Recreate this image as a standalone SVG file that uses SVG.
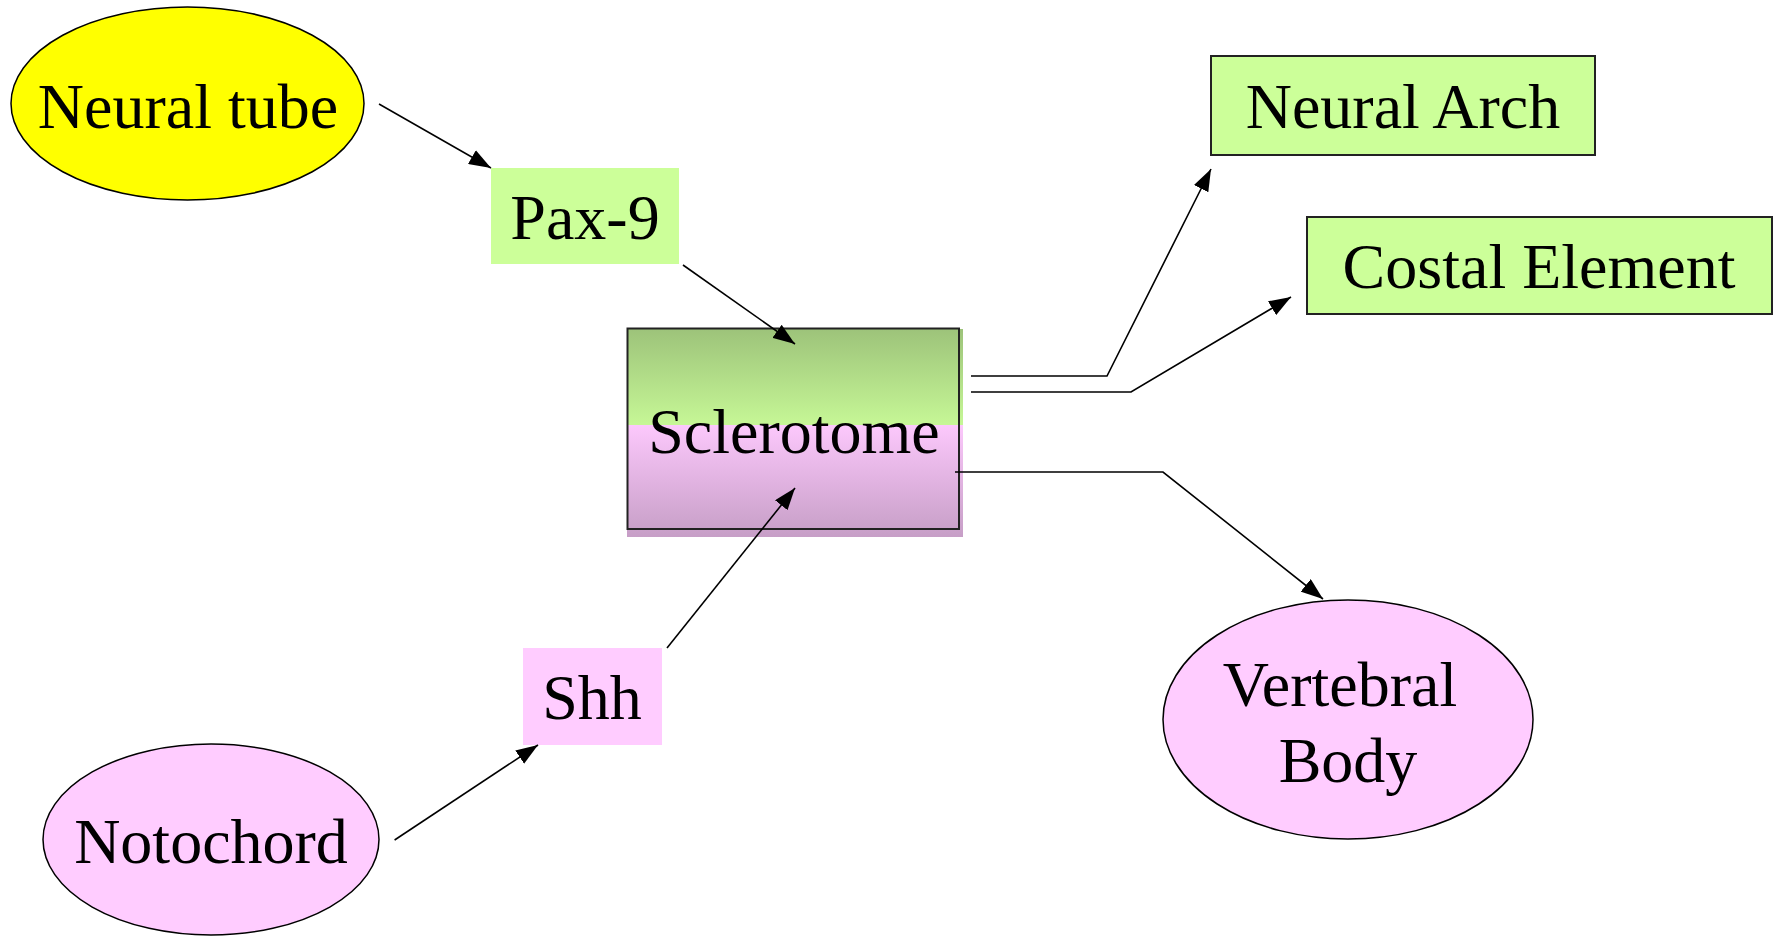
<svg xmlns="http://www.w3.org/2000/svg" width="1776" height="937" viewBox="0 0 1776 937">
<style>
text{font-family:"Liberation Serif","Times New Roman",serif;font-size:64px;fill:#000;text-anchor:middle}
.conn{fill:none;stroke:#000;stroke-width:1.6}
.edge{stroke:#000;stroke-width:1.5}
</style>
<defs>
<marker id="ah" viewBox="0 0 22 16" refX="22" refY="8" markerWidth="22" markerHeight="16" markerUnits="userSpaceOnUse" orient="auto">
<path d="M0,0 L22,8 L0,16 z" fill="#000"/>
</marker>
<linearGradient id="scl" x1="0" y1="0" x2="0" y2="1">
<stop offset="0" stop-color="#9dc37a"/>
<stop offset="0.46" stop-color="#c6f796"/>
<stop offset="0.46" stop-color="#fcc8fc"/>
<stop offset="1" stop-color="#c69ec6"/>
</linearGradient>
</defs>
<g id="neural-tube">
<ellipse cx="187.5" cy="103.5" rx="176.5" ry="96.5" fill="#ffff00" class="edge"/>
<text x="188" y="128">Neural tube</text>
</g>
<g id="pax9">
<rect x="491" y="168" width="188" height="96" fill="#ccff99"/>
<text x="585" y="239">Pax-9</text>
</g>
<g id="sclerotome">
<rect x="627" y="329" width="336" height="208" fill="url(#scl)"/>
<rect x="627.5" y="328.5" width="331.5" height="200.5" fill="none" stroke="#222" stroke-width="2"/>
<text x="794" y="453">Sclerotome</text>
</g>
<g id="shh">
<rect x="523" y="648" width="139" height="97" fill="#ffccff"/>
<text x="592" y="719">Shh</text>
</g>
<g id="notochord">
<ellipse cx="211" cy="839.5" rx="168" ry="95.5" fill="#ffccff" class="edge"/>
<text x="211" y="863">Notochord</text>
</g>
<g id="neural-arch">
<rect x="1211" y="56" width="384" height="99" fill="#ccff99" stroke="#222" stroke-width="2"/>
<text x="1403" y="128">Neural Arch</text>
</g>
<g id="costal-element">
<rect x="1307" y="217" width="465" height="97" fill="#ccff99" stroke="#222" stroke-width="2"/>
<text x="1539" y="288">Costal Element</text>
</g>
<g id="vertebral-body">
<ellipse cx="1348" cy="719.5" rx="185" ry="119.5" fill="#ffccff" class="edge"/>
<text x="1340" y="706">Vertebral</text>
<text x="1348" y="782">Body</text>
</g>
<g id="connectors">
<path class="conn" d="M379,104 L491,168" marker-end="url(#ah)"/>
<path class="conn" d="M683,265 L795,344" marker-end="url(#ah)"/>
<path class="conn" d="M394.6,840 L538,745" marker-end="url(#ah)"/>
<path class="conn" d="M667,648 L795,488" marker-end="url(#ah)"/>
<path class="conn" d="M971,376 L1107,376 L1211,169" marker-end="url(#ah)"/>
<path class="conn" d="M971,392 L1131,392 L1291,297" marker-end="url(#ah)"/>
<path class="conn" d="M955,472 L1163,472 L1323,599" marker-end="url(#ah)"/>
</g>
</svg>
